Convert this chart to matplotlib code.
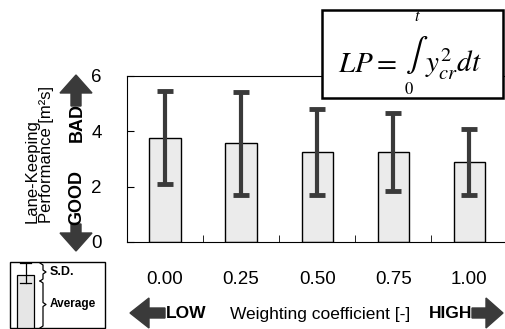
import matplotlib
matplotlib.use('Agg')
import matplotlib.pyplot as plt
from matplotlib.patches import Polygon, Rectangle
from matplotlib.lines import Line2D

# data
coefs = [0.00, 0.25, 0.50, 0.75, 1.00]
tick_labels = ['0.00', '0.25', '0.50', '0.75', '1.00']
lp_mean = [3.77, 3.56, 3.25, 3.24, 2.88]
lp_sd = [1.66, 1.85, 1.54, 1.40, 1.20]

W, H = 505, 329

plt.rcParams['font.family'] = ['Liberation Sans', 'DejaVu Sans']
plt.rcParams['mathtext.fontset'] = 'stix'

DARK = '#3a3a3a'


def fx(x):
    return x / W


def fy(y):
    return 1 - y / H


def poly(fig, pts, **kw):
    p = Polygon([(fx(a), fy(b)) for a, b in pts], closed=True,
                transform=fig.transFigure, **kw)
    fig.add_artist(p)


def brace(fig, x0, y0, y1, w=6):
    ym = (y0 + y1) / 2
    pts = [(x0, y0), (x0 + w / 2, y0 + 2), (x0 + w / 2, ym - 2), (x0 + w, ym),
           (x0 + w / 2, ym + 2), (x0 + w / 2, y1 - 2), (x0, y1)]
    fig.add_artist(Line2D([fx(a) for a, b in pts], [fy(b) for a, b in pts],
                          transform=fig.transFigure, color='black', lw=0.9))


fig = plt.figure(figsize=(W / 100, H / 100), dpi=100)
ax = fig.add_axes([fx(127), fy(242), fx(505 - 127), (242 - 75.7) / H])

x = list(range(len(coefs)))
ax.bar(x, lp_mean, width=0.41, color='#ebebeb', edgecolor='black', linewidth=1, zorder=2)
ax.errorbar(x, lp_mean, yerr=lp_sd, fmt='none', ecolor=DARK, elinewidth=3,
            capsize=6, capthick=3.5, zorder=3)

ax.set_xlim(-0.5, 4.47)
ax.set_ylim(0, 6)
ax.spines['right'].set_visible(False)
ax.set_yticks([0, 2, 4, 6])
ax.tick_params(axis='y', direction='in', length=5, pad=18, labelsize=13.5)
ax.set_xticks(x)
ax.set_xticklabels(tick_labels)
ax.tick_params(axis='x', length=0, pad=21, labelsize=13.5)
ax.set_xticks([0.5, 1.5, 2.5, 3.5], minor=True)
ax.tick_params(axis='x', which='minor', direction='in', length=5)

# y axis label
fig.text(fx(39), fy(223), 'Lane-Keeping\nPerformance [m\u00b2s]', rotation=90,
         ha='center', va='bottom', multialignment='left', fontsize=12,
         linespacing=0.95)

# GOOD / BAD arrows
poly(fig, [(76, 75), (92, 93), (81, 93), (81, 106), (71, 106), (71, 93), (60, 93)],
     color=DARK)
poly(fig, [(76, 251), (92, 233), (81, 233), (81, 224), (71, 224), (71, 233), (60, 233)],
     color=DARK)
fig.text(fx(77), fy(122), 'BAD', rotation=90, ha='center', va='center',
         fontsize=13, fontweight='bold')
fig.text(fx(77), fy(197), 'GOOD', rotation=90, ha='center', va='center',
         fontsize=13, fontweight='bold')

# LOW / HIGH arrows
poly(fig, [(130, 313), (149, 298), (149, 308), (165, 308), (165, 318), (149, 318),
           (149, 328)], color=DARK)
poly(fig, [(503, 313), (486, 298), (486, 308), (472, 308), (472, 318), (486, 318),
           (486, 328)], color=DARK)
fig.text(fx(166), fy(314), 'LOW', ha='left', va='center', fontsize=12.5,
         fontweight='bold')
fig.text(fx(472), fy(314), 'HIGH', ha='right', va='center', fontsize=12.5,
         fontweight='bold')
fig.text(fx(320), fy(314), 'Weighting coefficient [-]', ha='center', va='center',
         fontsize=12.5)

# formula box
fig.add_artist(Rectangle((fx(322), fy(98)), fx(503 - 322), (98 - 10) / H,
                         transform=fig.transFigure, facecolor='white',
                         edgecolor='black', linewidth=1.8, zorder=5))
fig.text(fx(338), fy(72), '$LP =$', ha='left', va='baseline', fontsize=21, zorder=6)
fig.text(fx(405), fy(63), r'$\int$', ha='left', va='baseline', fontsize=24, zorder=6)
fig.text(fx(414), fy(21), '$t$', ha='left', va='baseline', fontsize=12, zorder=6)
fig.text(fx(404), fy(94), '$0$', ha='left', va='baseline', fontsize=12, zorder=6)
fig.text(fx(425), fy(72), '$y_{cr}^2dt$', ha='left', va='baseline', fontsize=21, zorder=6)

# legend box
fig.add_artist(Rectangle((fx(10), fy(328)), fx(95), 66 / H, transform=fig.transFigure,
                         facecolor='white', edgecolor='black', linewidth=1))
fig.add_artist(Rectangle((fx(17), fy(328)), fx(17), 53 / H, transform=fig.transFigure,
                         facecolor='#e6e6e6', edgecolor='black', linewidth=0.9))
for seg in [[(25.5, 263), (25.5, 283)], [(20, 263), (31, 263)], [(20, 283), (31, 283)]]:
    fig.add_artist(Line2D([fx(a) for a, b in seg], [fy(b) for a, b in seg],
                          transform=fig.transFigure, color='black', lw=0.9))
brace(fig, 40, 263, 281)
brace(fig, 40, 281, 328)
fig.text(fx(50), fy(272), 'S.D.', ha='left', va='center', fontsize=9, fontweight='bold')
fig.text(fx(50), fy(304), 'Average', ha='left', va='center', fontsize=8.5,
         fontweight='bold')

fig.savefig('out.png', dpi=100)
